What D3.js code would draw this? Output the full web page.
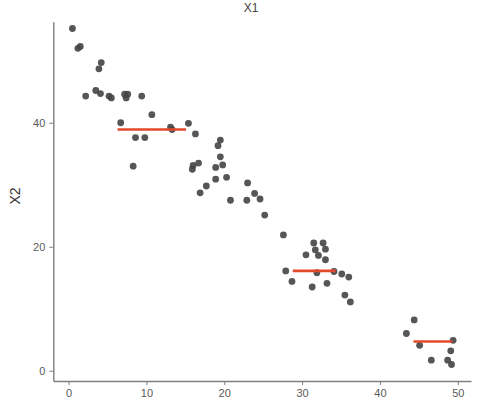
<!DOCTYPE html>
<html lang="en">
<head>
	<meta charset="UTF-8">
	<title>X1 vs X2</title>
	<script src="https://cdn.jsdelivr.net/npm/d3@7"></script>
	<style>
		body{
			margin:0;
			background:white;
		}
		svg{
			display:block;
			font-family:"Liberation Sans", Arial, sans-serif;
		}
		.axis path, .axis line{
			stroke:#7f7f7f;
		}
		.axis path{
			stroke-width:1.4;
		}
		.axis text{
			fill:#5a5a5a;
			font-size:11px;
		}
	</style>
</head>
<body>
	<svg width="502" height="416"></svg>
	<script>
		// values
		var xVals = [0.5, 1.2, 1.5, 2.2, 3.5, 4.1, 3.9, 4.2, 5.2, 5.5, 7.2, 7.6, 7.4, 9.4, 10.7,
			6.7, 8.6, 9.8, 8.3, 13.1, 13.3, 15.4, 16.3, 16.7, 16.0, 15.9, 16.9, 17.7,
			18.9, 18.9, 19.2, 19.5, 19.5, 19.8, 20.3, 20.8, 22.9, 23.0, 23.9, 24.6,
			25.2, 27.6, 27.9, 28.7, 30.5, 31.5, 31.7, 32.1, 32.7, 33.0, 33.0, 31.9,
			31.3, 33.2, 34.1, 35.1, 36.0, 35.5, 36.2,
			44.4, 43.4, 45.1, 46.6, 48.7, 49.2, 49.1, 49.4];
		var yVals = [55.2, 52.0, 52.3, 44.3, 45.2, 44.7, 48.7, 49.7, 44.3, 44.0, 44.6, 44.6, 44.0, 44.3, 41.3,
			40.0, 37.6, 37.6, 33.0, 39.3, 38.9, 39.9, 38.2, 33.5, 33.1, 32.5, 28.7, 29.8,
			32.8, 30.9, 36.3, 37.2, 34.5, 33.2, 31.2, 27.5, 27.5, 30.3, 28.6, 27.7,
			25.1, 21.9, 16.1, 14.4, 18.7, 20.6, 19.5, 18.6, 20.6, 19.6, 17.9, 15.8,
			13.5, 14.1, 16.0, 15.6, 15.1, 12.2, 11.1,
			8.2, 6.0, 4.1, 1.7, 1.7, 1.0, 3.2, 4.9];

		// red segments (cluster means)
		var segX0 = [6.3, 28.8, 44.3];
		var segX1 = [15.1, 34.3, 49.3];
		var segY = [38.9, 16.1, 4.7];

		var xTicks = [0, 10, 20, 30, 40, 50];
		var yTicks = [0, 20, 40];

		var svg = d3.select("svg");

		var x = d3.scaleLinear()
			.domain([-1.96, 51.7])
			.range([53.3, 471]);
		var y = d3.scaleLinear()
			.domain([-1.66, 56.3])
			.range([381, 21.7]);

		var xAxis = svg.append("g")
			.attr("class","axis")
			.attr("transform","translate(0,381)")
			.call(d3.axisBottom(x).tickValues(xTicks).tickSize(4).tickPadding(4).tickSizeOuter(0));
		var yAxis = svg.append("g")
			.attr("class","axis")
			.attr("transform","translate(53.3,0)")
			.call(d3.axisLeft(y).tickValues(yTicks).tickSize(4).tickPadding(4).tickSizeOuter(0));

		var pts = xVals.map(function(d,i){ return {x:d, y:yVals[i]}; });

		svg.append("g").selectAll("circle")
			.data(pts)
			.enter().append("circle")
			.attr("cx",(d)=>x(d.x))
			.attr("cy",(d)=>y(d.y))
			.attr("r",3.4)
			.attr("fill","#444")
			.attr("fill-opacity",0.9);

		svg.append("g").selectAll("line")
			.data(segY)
			.enter().append("line")
			.attr("x1",(d,i)=>x(segX0[i]))
			.attr("x2",(d,i)=>x(segX1[i]))
			.attr("y1",(d)=>y(d))
			.attr("y2",(d)=>y(d))
			.attr("stroke","#e5492b")
			.attr("stroke-width",2.6);

		svg.append("text")
			.attr("x",251)
			.attr("y",12)
			.attr("text-anchor","middle")
			.attr("font-size","12px")
			.attr("fill","#444")
			.text("X1");

		svg.append("text")
			.attr("transform","translate(20,196) rotate(-90)")
			.attr("text-anchor","middle")
			.attr("font-size","14px")
			.attr("fill","#333")
			.text("X2");
	</script>
</body>
</html>
